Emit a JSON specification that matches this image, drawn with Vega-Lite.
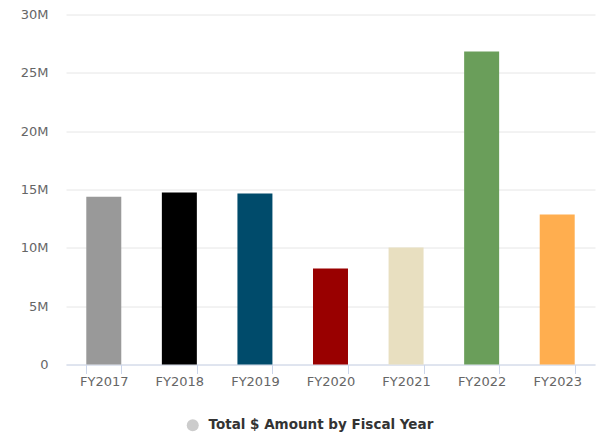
{
  "$schema": "https://vega.github.io/schema/vega-lite/v6.json",
  "autosize": {"type": "none"},
  "width": 529,
  "height": 350,
  "padding": {"left": 66, "top": 14.5, "right": 11, "bottom": 70.5},
  "background": "#ffffff",
  "config": {
    "view": {"stroke": null},
    "font": "DejaVu Sans"
  },
  "data": {
    "values": [
      {"year": "FY2017", "amount": 14380000, "series": "Total $ Amount by Fiscal Year"},
      {"year": "FY2018", "amount": 14740000, "series": "Total $ Amount by Fiscal Year"},
      {"year": "FY2019", "amount": 14660000, "series": "Total $ Amount by Fiscal Year"},
      {"year": "FY2020", "amount": 8230000, "series": "Total $ Amount by Fiscal Year"},
      {"year": "FY2021", "amount": 10030000, "series": "Total $ Amount by Fiscal Year"},
      {"year": "FY2022", "amount": 26830000, "series": "Total $ Amount by Fiscal Year"},
      {"year": "FY2023", "amount": 12860000, "series": "Total $ Amount by Fiscal Year"}
    ]
  },
  "encoding": {
    "x": {
      "field": "year",
      "type": "nominal",
      "sort": null,
      "title": null,
      "scale": {"paddingInner": 0.537, "paddingOuter": 0.2685},
      "axis": {
        "labelAngle": 0,
        "labelFont": "DejaVu Sans",
        "labelFontSize": 13,
        "labelColor": "#666666",
        "labelPadding": 2,
        "domainColor": "#ccd6eb",
        "tickColor": "#ccd6eb",
        "tickSize": 9,
        "tickBand": "extent",
        "grid": false
      }
    },
    "y": {
      "field": "amount",
      "type": "quantitative",
      "title": null,
      "scale": {"domain": [0, 30000000], "nice": false},
      "axis": {
        "values": [0, 5000000, 10000000, 15000000, 20000000, 25000000, 30000000],
        "labelExpr": "datum.value == 0 ? '0' : (datum.value / 1000000) + 'M'",
        "labelFont": "DejaVu Sans",
        "labelFontSize": 13,
        "labelColor": "#666666",
        "labelPadding": 18,
        "domain": false,
        "ticks": false,
        "grid": true,
        "gridColor": "#e6e6e6",
        "gridWidth": 1
      }
    }
  },
  "layer": [
    {
      "mark": {"type": "bar"},
      "encoding": {
        "color": {
          "field": "year",
          "type": "nominal",
          "legend": null,
          "scale": {
            "domain": ["FY2017", "FY2018", "FY2019", "FY2020", "FY2021", "FY2022", "FY2023"],
            "range": ["#999999", "#000000", "#004b6b", "#990000", "#e8dfc0", "#6a9e5a", "#ffae4f"]
          }
        }
      }
    },
    {
      "mark": {"type": "point", "filled": true, "opacity": 0},
      "encoding": {
        "color": {
          "field": "series",
          "type": "nominal",
          "scale": {"range": ["#cccccc"]},
          "legend": {
            "title": null,
            "orient": "none",
            "legendX": 120,
            "legendY": 404,
            "symbolType": "circle",
            "symbolSize": 144,
            "symbolOpacity": 1,
            "symbolFillColor": "#cccccc",
            "symbolStrokeWidth": 0,
            "labelFont": "DejaVu Sans",
            "labelFontSize": 13.5,
            "labelFontWeight": "bold",
            "labelColor": "#333333",
            "labelOffset": 9,
            "labelLimit": 500,
            "padding": 0
          }
        }
      }
    }
  ],
  "resolve": {"scale": {"color": "independent"}}
}
